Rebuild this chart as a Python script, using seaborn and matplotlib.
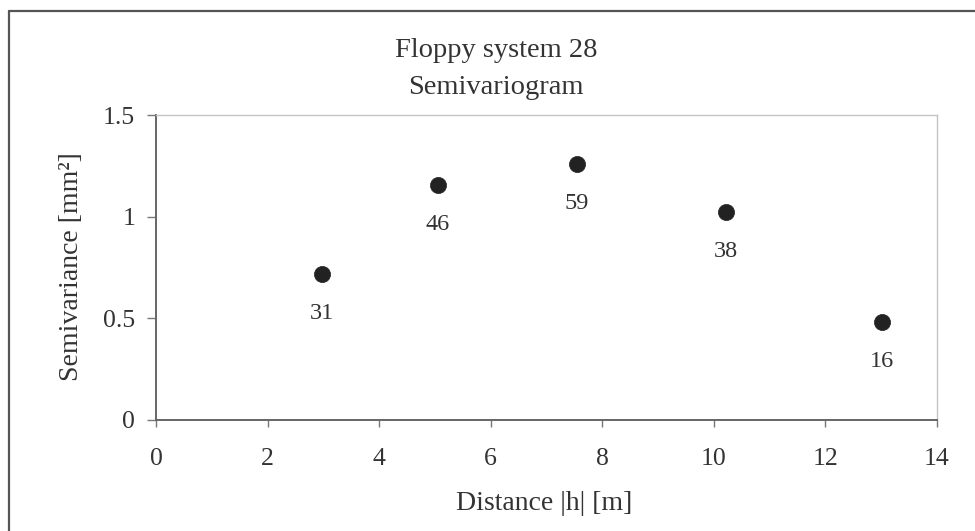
import matplotlib
matplotlib.use("Agg")
import matplotlib.pyplot as plt
from matplotlib.lines import Line2D
import seaborn as sns
import pandas as pd

# Experimental semivariogram: lag distance, semivariance, number of pairs
distance_m = [2.98, 5.05, 7.55, 10.22, 13.01]
semivariance = [0.72, 1.156, 1.26, 1.023, 0.482]
pair_counts = [31, 46, 59, 38, 16]

x_ticks = [0, 2, 4, 6, 8, 10, 12, 14]
y_ticks = [0, 0.5, 1, 1.5]
y_tick_labels = ["0", "0.5", "1", "1.5"]

title_lines = ["Floppy system 28", "Semivariogram"]
x_label = "Distance |h| [m]"
y_label = "Semivariance [mm²]"

df = pd.DataFrame({"h": distance_m, "gamma": semivariance, "n": pair_counts})

sns.set_theme(style="white")
plt.rcParams["font.family"] = ["Liberation Serif", "DejaVu Serif"]
text_color = "#333333"

W, H = 975, 531
fig = plt.figure(figsize=(W / 100, H / 100), dpi=100)
fig.patch.set_facecolor("white")
ax = fig.add_axes([156 / W, 1 - 420 / H, (937 - 156) / W, (420 - 115) / H])

sns.scatterplot(data=df, x="h", y="gamma", ax=ax, s=135, color="#222222",
                edgecolor="#222222", linewidth=0.5, legend=False, zorder=3)

for h, g, n in zip(df["h"], df["gamma"], df["n"]):
    ax.annotate(str(n), xy=(h, g), xytext=(0, -32.5), textcoords="offset points",
                ha="center", va="baseline", fontsize=17.5, color=text_color)

ax.set_xlim(0, 14)
ax.set_ylim(0, 1.5)
ax.set_xticks(x_ticks)
ax.set_yticks(y_ticks)
ax.set_yticklabels(y_tick_labels)
ax.set_xlabel("")
ax.set_ylabel("")

ax.tick_params(axis="x", direction="out", length=5, width=1.0, color="#777777",
               pad=15.0, labelsize=18.5, labelcolor=text_color, bottom=True)
ax.tick_params(axis="y", direction="out", length=6.5, width=1.0, color="#777777",
               pad=8.5, labelsize=18.5, labelcolor=text_color, left=True)

for side in ("left", "bottom"):
    ax.spines[side].set_color("#666666")
    ax.spines[side].set_linewidth(1.4)
for side in ("top", "right"):
    ax.spines[side].set_color("#c4c4c4")
    ax.spines[side].set_linewidth(1.0)

# Two-line chart title
fig.text(496 / W, 1 - 57 / H, title_lines[0], ha="center", va="baseline",
         fontsize=20.5, color=text_color)
fig.text(496 / W, 1 - 94 / H, title_lines[1], ha="center", va="baseline",
         fontsize=20.5, color=text_color)

fig.text(544 / W, 1 - 510 / H, x_label, ha="center", va="baseline",
         fontsize=20, color=text_color)
fig.text(72 / W, 1 - 267 / H, y_label, ha="center", va="center",
         rotation=90, fontsize=20, color=text_color)

# Chart-area frame (left and top edges)
fig.add_artist(Line2D([9 / W, 9 / W], [0, 1 - 11 / H], transform=fig.transFigure,
                      color="#555555", linewidth=1.6))
fig.add_artist(Line2D([9 / W, 1], [1 - 11 / H, 1 - 11 / H], transform=fig.transFigure,
                      color="#555555", linewidth=1.6))

fig.savefig("out.png", dpi=100, facecolor="white")
